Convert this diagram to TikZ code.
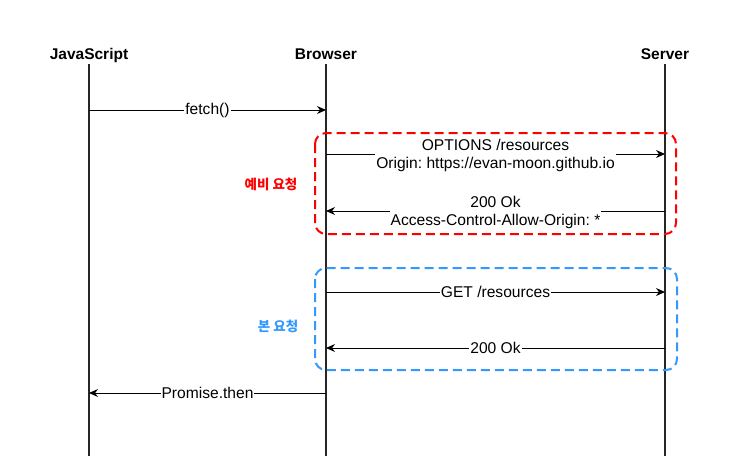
\documentclass[tikz,border=0pt]{standalone}
\usepackage{fontspec}
\setmainfont{Liberation Sans}
\newfontfamily\krfont{Noto Sans CJK KR}
\usetikzlibrary{arrows.meta}
\definecolor{boxred}{HTML}{FF0000}
\definecolor{boxblue}{HTML}{3399FF}
\frenchspacing
\tikzset{
  header/.style={font=\fontsize{15.5}{17}\selectfont\bfseries, anchor=base, inner sep=0pt},
  lifeline/.style={draw=black!85, line width=1.2pt},
  msg/.style={draw=black, line width=1pt, -{Stealth[length=9pt,width=8pt]}},
  msglabel/.style={font=\fontsize{15.6}{17.5}\selectfont, fill=white, inner sep=1pt, align=center},
  msglabeltwo/.style={msglabel, yshift=-1.5pt},
  phasebox/.style={line width=2pt, rounded corners=11pt, dash pattern=on 9pt off 5pt},
  phaselabel/.style={font=\krfont\fontsize{13.5}{15}\selectfont\bfseries, inner sep=0pt}
}
\begin{document}
\begin{tikzpicture}[x=1pt, y=-1pt]
\useasboundingbox (0,0) rectangle (754,472);
% headers
\node[header] (hjs) at (89,59) {JavaScript};
\node[header] (hbr) at (326,59) {Browser};
\node[header] (hsv) at (665,59) {Server};
% lifeline ends
\coordinate (jsT) at (89,64);   \coordinate (jsB) at (89,456);
\coordinate (brT) at (326,64);  \coordinate (brB) at (326,456);
\coordinate (svT) at (665,64);  \coordinate (svB) at (665,456);
\draw[lifeline] (jsT) -- (jsB);
\draw[lifeline] (brT) -- (brB);
\draw[lifeline] (svT) -- (svB);
% phase boxes
\draw[phasebox, draw=boxred] (315,133) rectangle (676,234);
\draw[phasebox, draw=boxblue] (315,268) rectangle (677,370);
\node[phaselabel, text=boxred] (lpre) at (271,184) {예비 요청};
\node[phaselabel, text=boxblue] (lmain) at (278,326) {본 요청};
% message anchors
\coordinate (js1) at (89,110);  \coordinate (br1) at (326,110);
\coordinate (br2) at (326,154); \coordinate (sv2) at (665,154);
\coordinate (sv3) at (665,211); \coordinate (br3) at (326,211);
\coordinate (br4) at (326,292); \coordinate (sv4) at (665,292);
\coordinate (sv5) at (665,348); \coordinate (br5) at (326,348);
\coordinate (br6) at (326,393); \coordinate (js6) at (89,393);
% messages
\draw[msg] (js1) -- node[msglabel] (m1) {fetch()} (br1);
\draw[msg] (br2) -- node[msglabeltwo] (m2) {OPTIONS /resources\\Origin: https://evan-moon.github.io} (sv2);
\draw[msg] (sv3) -- node[msglabeltwo] (m3) {200 Ok\\Access-Control-Allow-Origin: *} (br3);
\draw[msg] (br4) -- node[msglabel] (m4) {GET /resources} (sv4);
\draw[msg] (sv5) -- node[msglabel] (m5) {200 Ok} (br5);
\draw[msg] (br6) -- node[msglabel] (m6) {Promise.then} (js6);
\end{tikzpicture}
\end{document}
